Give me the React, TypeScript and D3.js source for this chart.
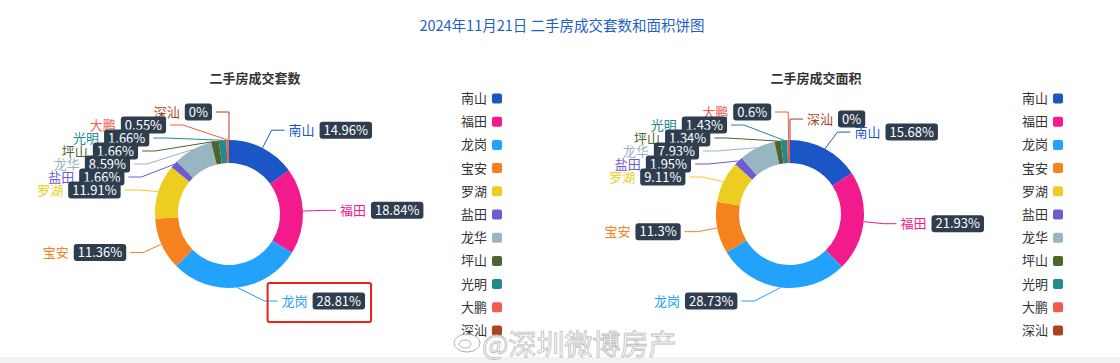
import React, { useRef, useEffect } from "react";
import * as d3 from "d3";

// districts in legend / slice order
const regions = ["南山", "福田", "龙岗", "宝安", "罗湖", "盐田", "龙华", "坪山", "光明", "大鹏", "深汕"];
const regionColors = [
  "#1c56c6", "#f21a8c", "#22a2fa", "#f5821e", "#eecd21", "#6f5bd0",
  "#97b6c2", "#4d652b", "#238a8c", "#f05b4d", "#a8431f",
];
// share of deals (%), share of floor area (%)
const countShares = [14.96, 18.84, 28.81, 11.36, 11.91, 1.66, 8.59, 1.66, 1.66, 0.55, 0];
const areaShares = [15.68, 21.93, 28.73, 11.3, 9.11, 1.95, 7.93, 1.34, 1.43, 0.6, 0];

const mainTitle = "2024年11月21日 二手房成交套数和面积饼图";
const chartTitles = ["二手房成交套数", "二手房成交面积"];
const watermark = "@深圳微博房产";

const FONT = "'Noto Sans CJK SC', 'Noto Sans', sans-serif";

type Lab = {
  name: string;
  color: string;
  value: number;
  mid: number;
  dir: number;
  x0: number;
  y0: number;
  x: number;
  y: number;
  p0: [number, number];
};

// spread labels of one side vertically, then pull x back onto an ellipse (echarts-like)
function layoutSide(list: Lab[], cx: number, cy: number, R: number, minY: number, maxY: number, gap: number) {
  if (!list.length) return;
  list.sort((a, b) => a.y0 - b.y0);
  const fix = (c: any) => {
    const size = (c.items.length - 1) * gap;
    c.start = Math.max(minY, Math.min(maxY - size, c.start));
  };
  const stack: any[] = [];
  for (const l of list) {
    let c: any = { items: [l], start: l.y0 };
    fix(c);
    while (stack.length) {
      const prev = stack[stack.length - 1];
      if (prev.start + prev.items.length * gap > c.start) {
        stack.pop();
        const items = prev.items.concat(c.items);
        c = { items, start: (d3.mean(items, (d: Lab) => d.y0) as number) - ((items.length - 1) * gap) / 2 };
        fix(c);
      } else break;
    }
    stack.push(c);
  }
  stack.forEach((c) => c.items.forEach((l: Lab, k: number) => (l.y = c.start + k * gap)));
  list.forEach((l) => (l.x = l.x0));

  const adjusted = list.some((l) => Math.abs(l.y - l.y0) > 0.01);
  if (!adjusted) return;
  const semis = [list.filter((l) => l.y <= cy), list.filter((l) => l.y > cy)];
  semis.forEach((items) => {
    if (!items.length) return;
    const far = items.reduce((a, b) => (Math.abs(b.y - cy) > Math.abs(a.y - cy) ? b : a));
    const dy = Math.abs(far.y - cy);
    const dx = far.x0 - cx;
    let rB = Math.abs(dx) < R ? Math.sqrt((dy * dy) / (1 - (dx * dx) / R / R)) : R;
    rB = Math.max(rB, R);
    items.forEach((l) => {
      const d = Math.abs(l.y - cy);
      l.x = cx + l.dir * Math.sqrt(Math.max(0, 1 - (d * d) / (rB * rB))) * R;
    });
  });
}

const charts = [
  { title: chartTitles[0], values: countShares, cx: 229, titleX: 255, legendX: 487, zeroSide: -1, highlight: "龙岗" },
  { title: chartTitles[1], values: areaShares, cx: 790, titleX: 816, legendX: 1048, zeroSide: 1, highlight: "" },
];

export default function App() {
  const ref = useRef<SVGSVGElement>(null);

  useEffect(() => {
    const svg = d3.select(ref.current);
    svg.selectAll("*").remove();
    svg.style("font-family", FONT);

    const cy = 214;
    const innerR = 51;
    const outerR = 74;
    const lineR = 94;
    const len2 = 13;
    const textGap = 4;

    // bottom strip
    svg.append("rect").attr("x", 0).attr("y", 357).attr("width", 1120).attr("height", 6).attr("fill", "#f2f2f2");

    svg
      .append("text")
      .attr("x", 562)
      .attr("y", 26)
      .attr("dy", "0.35em")
      .attr("text-anchor", "middle")
      .attr("font-size", 14.5)
      .attr("fill", "#1f5fc6")
      .text(mainTitle);

    const pie = d3.pie<number>().value((d) => d).sort(null);
    const arc = d3.arc<d3.PieArcDatum<number>>().innerRadius(innerR).outerRadius(outerR);

    charts.forEach((ch) => {
      const cx = ch.cx;
      svg
        .append("text")
        .attr("x", ch.titleX)
        .attr("y", 78)
        .attr("dy", "0.35em")
        .attr("text-anchor", "middle")
        .attr("font-size", 13)
        .attr("font-weight", 700)
        .attr("fill", "#333")
        .text(ch.title);

      const arcs = pie(ch.values);
      const g = svg.append("g").attr("transform", `translate(${cx},${cy})`);
      g.selectAll("path")
        .data(arcs)
        .enter()
        .append("path")
        .attr("d", arc)
        .attr("fill", (d, i) => regionColors[i]);

      // labels
      const labs: Lab[] = arcs.map((a, i) => {
        const mid = (a.startAngle + a.endAngle) / 2;
        let dir = Math.sin(mid) < 0 ? -1 : 1;
        if (a.value === 0) dir = ch.zeroSide;
        return {
          name: regions[i],
          color: regionColors[i],
          value: a.value,
          mid,
          dir,
          x0: cx + lineR * Math.sin(mid),
          y0: cy - lineR * Math.cos(mid),
          x: 0,
          y: 0,
          p0: [cx + outerR * Math.sin(mid), cy - outerR * Math.cos(mid)],
        };
      });
      layoutSide(labs.filter((l) => l.dir < 0), cx, cy, lineR, 112, 301, 13);
      layoutSide(labs.filter((l) => l.dir > 0), cx, cy, lineR, 112, 301, 13);

      const lineG = svg.append("g");
      labs.forEach((l) => {
        const p2x = l.x + l.dir * len2;
        lineG
          .append("polyline")
          .attr("points", `${l.p0[0]},${l.p0[1]} ${l.x},${l.y} ${p2x},${l.y}`)
          .attr("fill", "none")
          .attr("stroke", l.color)
          .attr("stroke-width", 1);
      });

      const labelG = svg.append("g");
      [...labs]
        .sort((a, b) => a.y - b.y)
        .forEach((l) => {
          const p2x = l.x + l.dir * len2;
          const lg = labelG.append("g");
          const name = lg
            .append("text")
            .attr("y", l.y)
            .attr("dy", "0.35em")
            .attr("font-size", 13)
            .attr("fill", l.color)
            .text(l.name);
          const nameW = (name.node() as SVGTextElement).getComputedTextLength();
          const rect = lg.append("rect");
          const pct = lg
            .append("text")
            .attr("y", l.y)
            .attr("dy", "0.35em")
            .attr("font-size", 13)
            .attr("fill", "#fff")
            .attr("text-anchor", "middle")
            .text(`${l.value}%`);
          const pctW = (pct.node() as SVGTextElement).getComputedTextLength();
          const bw = pctW + 8;
          const bh = 17;
          let nameX: number, boxX: number;
          if (l.dir > 0) {
            nameX = p2x + textGap;
            boxX = nameX + nameW + 5;
          } else {
            boxX = p2x - textGap - bw;
            nameX = boxX - 5 - nameW;
          }
          name.attr("x", nameX);
          rect
            .attr("x", boxX)
            .attr("y", l.y - bh / 2)
            .attr("width", bw)
            .attr("height", bh)
            .attr("rx", 3)
            .attr("fill", "#2f3e4f");
          pct.attr("x", boxX + bw / 2);

          if (l.name === ch.highlight) {
            svg
              .append("rect")
              .attr("x", nameX - 14)
              .attr("y", l.y - 18)
              .attr("width", boxX + bw + 6 - (nameX - 14))
              .attr("height", 39)
              .attr("rx", 2)
              .attr("fill", "none")
              .attr("stroke", "#e8211c")
              .attr("stroke-width", 2);
          }
        });

      // legend
      const lg = svg.append("g");
      regions.forEach((r, i) => {
        const y = 98.5 + i * 23.2;
        lg.append("text")
          .attr("x", ch.legendX)
          .attr("y", y)
          .attr("dy", "0.35em")
          .attr("text-anchor", "end")
          .attr("font-size", 13)
          .attr("fill", "#333")
          .text(r);
        lg.append("rect")
          .attr("x", ch.legendX + 5)
          .attr("y", y - 5)
          .attr("width", 10)
          .attr("height", 10)
          .attr("rx", 2)
          .attr("fill", regionColors[i]);
      });
    });

    // watermark
    const wm = svg.append("g").attr("opacity", 0.9);
    wm.append("ellipse")
      .attr("cx", 467)
      .attr("cy", 343)
      .attr("rx", 13)
      .attr("ry", 9)
      .attr("fill", "#fff")
      .attr("stroke", "#aaa")
      .attr("stroke-width", 1);
    wm.append("ellipse")
      .attr("cx", 465)
      .attr("cy", 344)
      .attr("rx", 6)
      .attr("ry", 4)
      .attr("fill", "none")
      .attr("stroke", "#aaa")
      .attr("stroke-width", 1);
    wm.append("text")
      .attr("x", 482)
      .attr("y", 355)
      .attr("font-size", 28)
      .attr("fill", "#fff")
      .attr("stroke", "#b5b5b5")
      .attr("stroke-width", 0.8)
      .text(watermark);
  }, []);

  return (
    <svg
      ref={ref}
      width={1120}
      height={363}
      style={{ position: "absolute", left: 0, top: 0, background: "#fff" }}
    />
  );
}
